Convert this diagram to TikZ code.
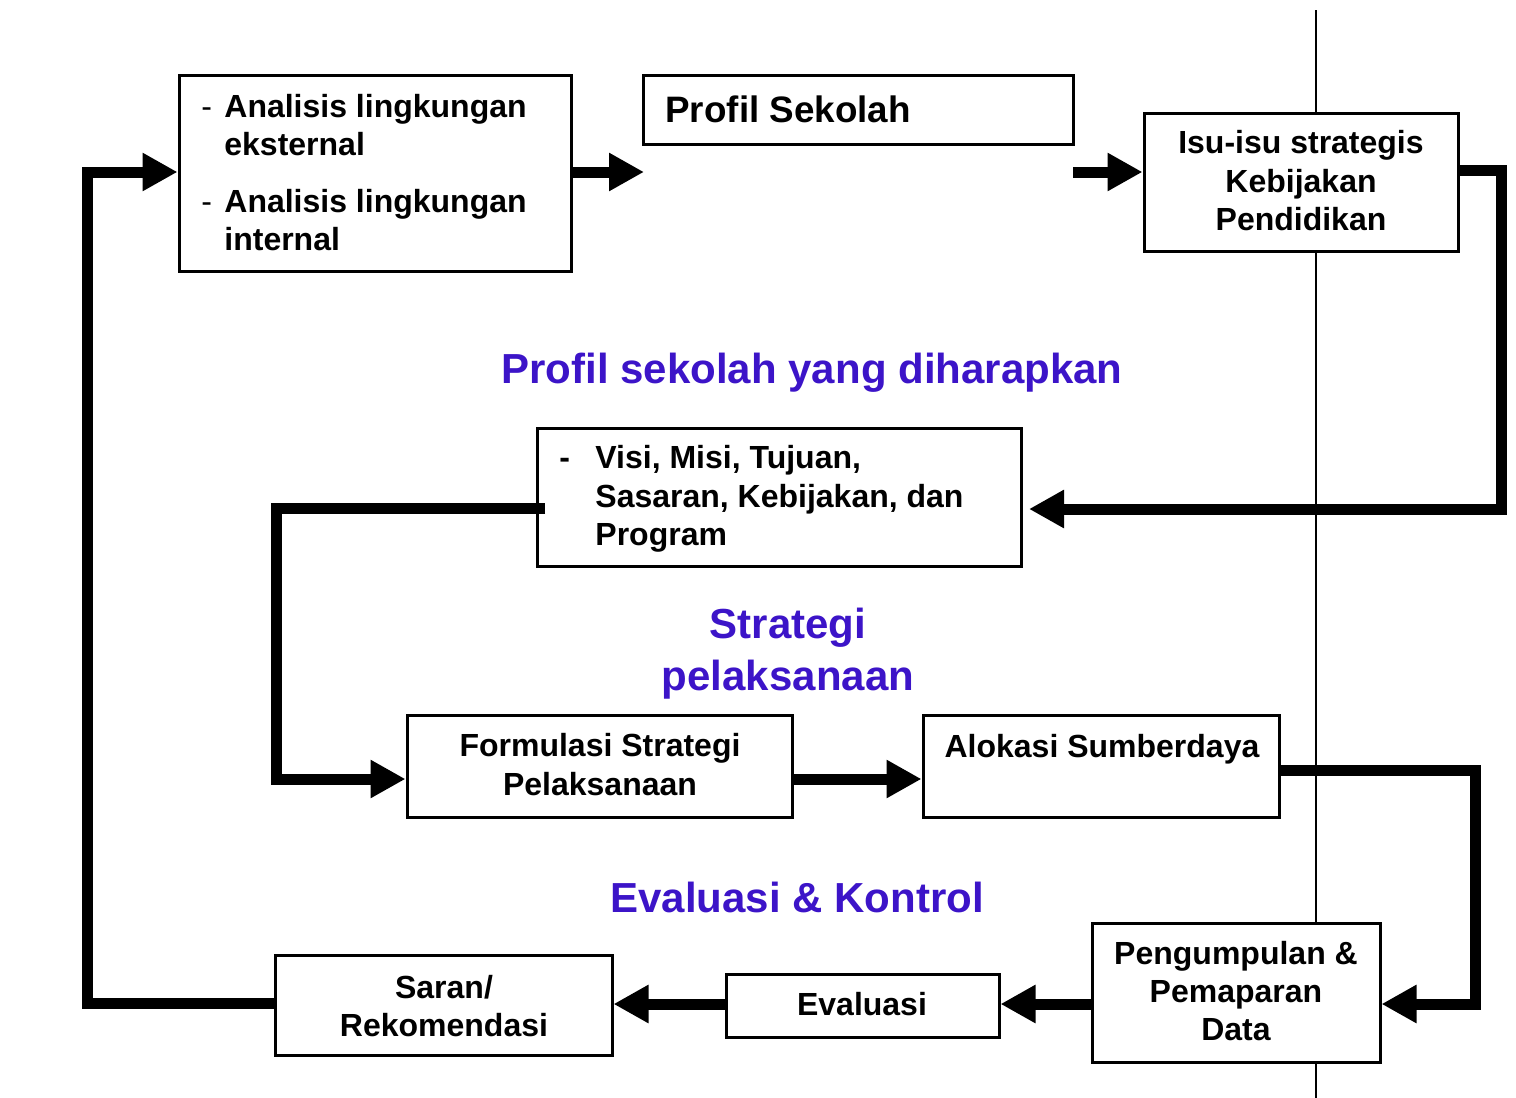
\documentclass[tikz,border=0pt]{standalone}
\usepackage{fontspec}
\setmainfont{Liberation Sans}
\usetikzlibrary{arrows.meta}
\definecolor{headblue}{HTML}{3C14C8}
\begin{document}
\begin{tikzpicture}[x=0.5pt,y=-0.5pt,
 box/.style={draw,line width=1.5pt,fill=white,inner sep=0pt},
 txt/.style={font=\fontsize{16}{19}\selectfont\bfseries,inner sep=0pt},
 head/.style={font=\fontsize{21}{26}\selectfont\bfseries,text=headblue,inner sep=0pt},
 flow/.style={line width=5.5pt,-{Triangle[length=17.5pt,width=18pt]}},
 axisline/.style={line width=1pt}]
\useasboundingbox (0,0) rectangle (1516,1098);
\coordinate (t1) at (1316,10);
\coordinate (t2) at (1316,1098);
\draw[axisline] (t1) -- (t2);

% boxes
\node[box,minimum width=196pt,minimum height=98pt] (A) at (375,173) {};
\node[box,minimum width=215pt,minimum height=34.5pt] (P) at (858,109.5) {};
\node[box,minimum width=157pt,minimum height=69pt] (I) at (1301,182) {};
\node[box,minimum width=242pt,minimum height=69pt] (V) at (779.5,497) {};
\node[box,minimum width=192.5pt,minimum height=51pt] (F) at (599.5,766) {};
\node[box,minimum width=178pt,minimum height=51pt] (K) at (1101,766) {};
\node[box,minimum width=144pt,minimum height=69.5pt] (D) at (1236,993) {};
\node[box,minimum width=136.5pt,minimum height=31.5pt] (E) at (862.5,1005.5) {};
\node[box,minimum width=168.5pt,minimum height=50pt] (S) at (443.5,1005) {};

% texts
\node[txt,font=\fontsize{16}{19}\selectfont,anchor=base west] (a1d) at (201,117) {-};
\node[txt,anchor=base west] (a1) at (224,117) {Analisis lingkungan};
\node[txt,anchor=base west] (a2) at (224,155) {eksternal};
\node[txt,font=\fontsize{16}{19}\selectfont,anchor=base west] (a3d) at (201,212) {-};
\node[txt,anchor=base west] (a3) at (224,212) {Analisis lingkungan};
\node[txt,anchor=base west] (a4) at (224,250) {internal};
\node[txt,font=\fontsize{18.4}{22}\selectfont\bfseries,anchor=base west] (p1) at (665,122) {Profil Sekolah};
\node[txt,anchor=base] (i1) at (1301,153) {Isu-isu strategis};
\node[txt,anchor=base] (i2) at (1301,192) {Kebijakan};
\node[txt,anchor=base] (i3) at (1301,230) {Pendidikan};
\node[txt,anchor=base west] (v0) at (559,468) {-};
\node[txt,anchor=base west] (v1) at (595,468) {Visi, Misi, Tujuan,};
\node[txt,anchor=base west] (v2) at (595,507) {Sasaran, Kebijakan, dan};
\node[txt,anchor=base west] (v3) at (595,545) {Program};
\node[txt,anchor=base] (f1) at (600,756) {Formulasi Strategi};
\node[txt,anchor=base] (f2) at (600,795) {Pelaksanaan};
\node[txt,anchor=base] (k1) at (1102,757) {Alokasi Sumberdaya};
\node[txt,anchor=base] (d1) at (1236,964) {Pengumpulan \&};
\node[txt,anchor=base] (d2) at (1236,1002) {Pemaparan};
\node[txt,anchor=base] (d3) at (1236,1040) {Data};
\node[txt,anchor=base] (e1) at (862,1015) {Evaluasi};
\node[txt,anchor=base] (s1) at (444,998) {Saran/};
\node[txt,anchor=base] (s2) at (444,1036) {Rekomendasi};

\node[head,anchor=base] (h1) at (812,383) {Profil sekolah yang diharapkan};
\node[head,anchor=base] (h2) at (788,638) {Strategi};
\node[head,anchor=base] (h3) at (788,690) {pelaksanaan};
\node[head,anchor=base] (h4) at (797,912) {Evaluasi \& Kontrol};

% connectors
\coordinate (pin) at (644,172);
\draw[flow] (A.east |- pin) -- (pin);
\coordinate (pout) at (1073,172);
\draw[flow] (pout) -- (I.west |- pout);
\coordinate (r1) at (1501,170);
\coordinate (r2) at (1501,509);
\draw[flow] (I.east |- r1) -- (r1) -- (r2) -- ([xshift=3pt]V.east |- r2);
\coordinate (l1) at (276,508);
\coordinate (l2) at (276,779);
\draw[flow] ([xshift=4.5pt]V.west |- l1) -- (l1) -- (l2) -- (F.west |- l2);
\draw[flow] (F.east |- l2) -- (K.west |- l2);
\coordinate (r3) at (1475,770);
\coordinate (r4) at (1475,1004);
\draw[flow] (K.east |- r3) -- (r3) -- (r4) -- (D.east |- r4);
\draw[flow] (D.west |- r4) -- (E.east |- r4);
\draw[flow] (E.west |- r4) -- (S.east |- r4);
\coordinate (l3) at (87,1003);
\coordinate (l4) at (87,172);
\draw[flow] (S.west |- l3) -- (l3) -- (l4) -- (A.west |- l4);
\end{tikzpicture}
\end{document}
